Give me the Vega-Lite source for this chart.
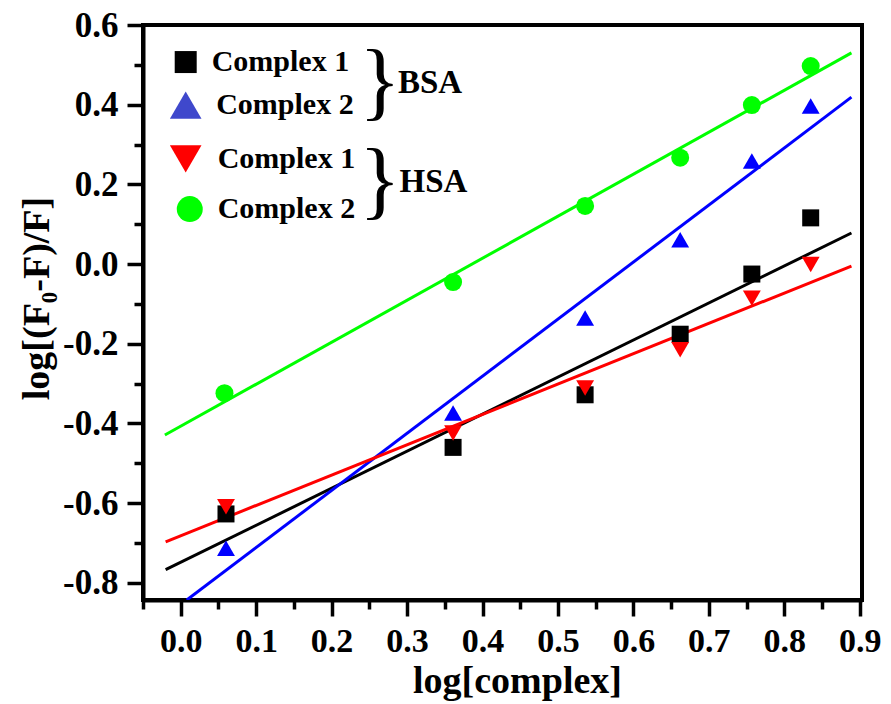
{
  "$schema": "https://vega.github.io/schema/vega-lite/v6.json",
  "width": 719,
  "height": 575,
  "autosize": {"type": "none"},
  "padding": {"left": 143, "top": 25, "right": 29, "bottom": 104},
  "background": "white",
  "config": {
    "font": "Liberation Serif",
    "view": {"stroke": "black", "strokeWidth": 4},
    "axis": {
      "grid": false,
      "domainColor": "black",
      "domainWidth": 4,
      "tickColor": "black",
      "tickWidth": 3.5,
      "labelColor": "black",
      "labelFont": "Liberation Serif",
      "labelFontWeight": "bold",
      "labelFontSize": 35,
      "titleColor": "black",
      "titleFont": "Liberation Serif",
      "titleFontWeight": "bold",
      "titleFontSize": 38
    }
  },
  "datasets": {
    "pts": [
      {"series": "BSA Complex 1", "x": 0.060, "y": -0.627},
      {"series": "BSA Complex 1", "x": 0.361, "y": -0.460},
      {"series": "BSA Complex 1", "x": 0.536, "y": -0.328},
      {"series": "BSA Complex 1", "x": 0.662, "y": -0.176},
      {"series": "BSA Complex 1", "x": 0.757, "y": -0.025},
      {"series": "BSA Complex 1", "x": 0.835, "y": 0.116},
      {"series": "BSA Complex 2", "x": 0.060, "y": -0.713},
      {"series": "BSA Complex 2", "x": 0.361, "y": -0.374},
      {"series": "BSA Complex 2", "x": 0.536, "y": -0.135},
      {"series": "BSA Complex 2", "x": 0.662, "y": 0.061},
      {"series": "BSA Complex 2", "x": 0.757, "y": 0.259},
      {"series": "BSA Complex 2", "x": 0.835, "y": 0.397},
      {"series": "HSA Complex 1", "x": 0.060, "y": -0.609},
      {"series": "HSA Complex 1", "x": 0.361, "y": -0.424},
      {"series": "HSA Complex 1", "x": 0.536, "y": -0.311},
      {"series": "HSA Complex 1", "x": 0.662, "y": -0.215},
      {"series": "HSA Complex 1", "x": 0.757, "y": -0.086},
      {"series": "HSA Complex 1", "x": 0.835, "y": -0.001},
      {"series": "HSA Complex 2", "x": 0.058, "y": -0.324},
      {"series": "HSA Complex 2", "x": 0.361, "y": -0.045},
      {"series": "HSA Complex 2", "x": 0.536, "y": 0.146},
      {"series": "HSA Complex 2", "x": 0.662, "y": 0.267},
      {"series": "HSA Complex 2", "x": 0.757, "y": 0.399},
      {"series": "HSA Complex 2", "x": 0.835, "y": 0.497}
    ],
    "fits": [
      {"series": "BSA Complex 1", "x": -0.020, "y": -0.767},
      {"series": "BSA Complex 1", "x": 0.889, "y": 0.078},
      {"series": "BSA Complex 2", "x": 0.008, "y": -0.843},
      {"series": "BSA Complex 2", "x": 0.889, "y": 0.419},
      {"series": "HSA Complex 1", "x": -0.020, "y": -0.697},
      {"series": "HSA Complex 1", "x": 0.889, "y": -0.005},
      {"series": "HSA Complex 2", "x": -0.021, "y": -0.429},
      {"series": "HSA Complex 2", "x": 0.889, "y": 0.530}
    ],
    "legend": [
      {"series": "BSA Complex 1", "label": "Complex 1", "sx": 0.0066, "tx": 0.041, "y": 0.507},
      {"series": "BSA Complex 2", "label": "Complex 2", "sx": 0.0066, "tx": 0.047, "y": 0.399},
      {"series": "HSA Complex 1", "label": "Complex 1", "sx": 0.0066, "tx": 0.049, "y": 0.264},
      {"series": "HSA Complex 2", "label": "Complex 2", "sx": 0.012, "tx": 0.049, "y": 0.138}
    ],
    "groups": [
      {"name": "BSA", "bx": 0.264, "tx": 0.288, "y": 0.455},
      {"name": "HSA", "bx": 0.264, "tx": 0.290, "y": 0.205}
    ]
  },
  "resolve": {
    "axis": {"x": "independent", "y": "independent"},
    "scale": {"color": "independent", "shape": "independent", "size": "independent"}
  },
  "layer": [
    {
      "data": {"name": "fits"},
      "mark": {"type": "line", "strokeWidth": 3, "clip": true},
      "encoding": {
        "x": {"field": "x", "type": "quantitative", "scale": {"domain": [-0.05, 0.903], "nice": false, "zero": false},
          "axis": {"orient": "bottom", "values": [0, 0.1, 0.2, 0.3, 0.4, 0.5, 0.6, 0.7, 0.8, 0.9], "format": ".1f", "tickSize": 16, "labelFontSize": 34, "labelPadding": 8, "labelBaseline": "top", "title": "log[complex]", "titlePadding": 4, "titleX": 374}},
        "y": {"field": "y", "type": "quantitative", "scale": {"domain": [-0.843, 0.6], "nice": false, "zero": false},
          "axis": {"orient": "left", "values": [-0.8, -0.6, -0.4, -0.2, 0, 0.2, 0.4, 0.6], "labelExpr": "replace(format(datum.value, '.1f'), '\u2212', '-')", "tickSize": 16, "labelPadding": 9, "title": "log[(F\u2080-F)/F]", "titlePadding": 6, "titleY": 273}},
        "color": {"field": "series", "type": "nominal", "scale": {"domain": ["BSA Complex 1", "BSA Complex 2", "HSA Complex 1", "HSA Complex 2"], "range": ["#000000", "#0000ff", "#ff0000", "#00ff00"]}, "legend": null},
        "detail": {"field": "series"}
      }
    },
    {
      "data": {"name": "pts"},
      "mark": {"type": "point", "filled": true, "opacity": 1},
      "encoding": {
        "x": {"field": "x", "type": "quantitative", "scale": {"domain": [-0.05, 0.903], "nice": false, "zero": false},
          "axis": {"orient": "bottom", "values": [-0.05, 0.05, 0.15, 0.25, 0.35, 0.45, 0.55, 0.65, 0.75, 0.85], "tickSize": 9, "labels": false, "domain": false, "title": null}},
        "y": {"field": "y", "type": "quantitative", "scale": {"domain": [-0.843, 0.6], "nice": false, "zero": false},
          "axis": {"orient": "left", "values": [-0.7, -0.5, -0.3, -0.1, 0.1, 0.3, 0.5], "tickSize": 9, "labels": false, "domain": false, "title": null}},
        "color": {"field": "series", "type": "nominal", "scale": {"domain": ["BSA Complex 1", "BSA Complex 2", "HSA Complex 1", "HSA Complex 2"], "range": ["#000000", "#0000ff", "#ff0000", "#00ff00"]}, "legend": null},
        "shape": {"field": "series", "type": "nominal", "scale": {"domain": ["BSA Complex 1", "BSA Complex 2", "HSA Complex 1", "HSA Complex 2"], "range": ["square", "triangle-up", "triangle-down", "circle"]}, "legend": null},
        "size": {"field": "series", "type": "nominal", "scale": {"type": "ordinal", "domain": ["BSA Complex 1", "BSA Complex 2", "HSA Complex 1", "HSA Complex 2"], "range": [289, 320, 320, 324]}, "legend": null}
      }
    },
    {
      "data": {"name": "legend"},
      "mark": {"type": "point", "filled": true, "opacity": 1},
      "encoding": {
        "x": {"field": "sx", "type": "quantitative", "axis": null},
        "y": {"field": "y", "type": "quantitative", "axis": null},
        "color": {"field": "series", "type": "nominal", "scale": {"domain": ["BSA Complex 1", "BSA Complex 2", "HSA Complex 1", "HSA Complex 2"], "range": ["#000000", "#3f48cc", "#ff0000", "#00ff00"]}, "legend": null},
        "shape": {"field": "series", "type": "nominal", "scale": {"domain": ["BSA Complex 1", "BSA Complex 2", "HSA Complex 1", "HSA Complex 2"], "range": ["square", "triangle-up", "triangle-down", "circle"]}, "legend": null},
        "size": {"field": "series", "type": "nominal", "scale": {"type": "ordinal", "domain": ["BSA Complex 1", "BSA Complex 2", "HSA Complex 1", "HSA Complex 2"], "range": [484, 1000, 1000, 676]}, "legend": null}
      }
    },
    {
      "data": {"name": "legend"},
      "mark": {"type": "text", "align": "left", "baseline": "middle", "fontSize": 30, "fontWeight": "bold", "font": "Liberation Serif", "color": "black"},
      "encoding": {
        "x": {"field": "tx", "type": "quantitative", "axis": null},
        "y": {"field": "y", "type": "quantitative", "axis": null},
        "text": {"field": "label"}
      }
    },
    {
      "data": {"name": "groups"},
      "mark": {"type": "text", "align": "center", "baseline": "middle", "fontSize": 86, "fontWeight": "normal", "font": "Liberation Serif", "color": "black", "text": "}"},
      "encoding": {
        "x": {"field": "bx", "type": "quantitative", "axis": null},
        "y": {"field": "y", "type": "quantitative", "axis": null}
      }
    },
    {
      "data": {"name": "groups"},
      "mark": {"type": "text", "align": "left", "baseline": "middle", "fontSize": 33, "fontWeight": "bold", "font": "Liberation Serif", "color": "black"},
      "encoding": {
        "x": {"field": "tx", "type": "quantitative", "axis": null},
        "y": {"field": "y", "type": "quantitative", "axis": null},
        "text": {"field": "name"}
      }
    }
  ]
}
